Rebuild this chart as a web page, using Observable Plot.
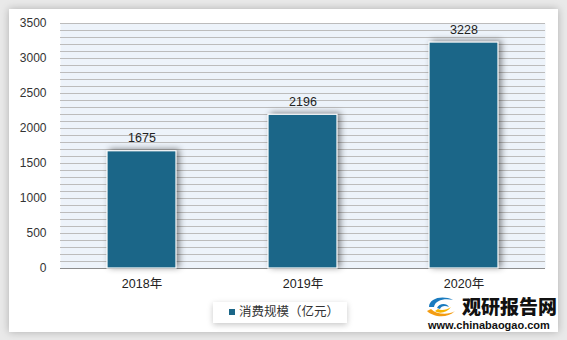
<!DOCTYPE html>
<html><head><meta charset="utf-8">
<script src="https://cdn.jsdelivr.net/npm/d3@7"></script>
<script src="https://cdn.jsdelivr.net/npm/@observablehq/plot@0.6"></script>
<style>
html,body{margin:0;padding:0;}
body{width:567px;height:340px;background:#e9e9e9;position:relative;overflow:hidden;font-family:"Liberation Sans","Noto Sans CJK SC",sans-serif;}
#card{position:absolute;left:9px;top:9px;width:549px;height:323px;background:#fff;box-shadow:0 0 8px rgba(0,0,0,0.25);}
#chart{position:absolute;left:0;top:0;}
#legend{position:absolute;left:213px;top:302px;height:21px;padding-right:8px;background:#fff;box-shadow:0 2px 6px rgba(0,0,0,0.22);font-size:12.5px;color:#333;line-height:21px;white-space:nowrap;}
#legend .sw{display:inline-block;width:6px;height:6px;background:#1b6688;margin:0 4px 0 16px;vertical-align:1px;}
#wm{position:absolute;left:425px;top:293px;width:135px;height:40px;}
#wm .t1{position:absolute;left:37px;top:2px;font-family:"Noto Sans CJK SC",sans-serif;font-weight:900;font-size:19px;letter-spacing:0px;color:#111;line-height:22px;}
#wm .t2{position:absolute;left:3px;top:26px;font-family:"Liberation Sans",sans-serif;font-weight:bold;font-size:11px;color:#111;line-height:12px;}
#wm svg{position:absolute;left:0;top:2px;}
</style></head>
<body>
<div id="card"></div>
<div id="chart"></div>
<div id="legend"><span class="sw"></span>消费规模（亿元）</div>
<div id="wm">
<svg width="34" height="24" viewBox="0 0 34 24">
<path d="M4 12 C4 3 18 0 28 5 C20 3 10 5 9 12 Z" fill="#1a7bbf"/>
<path d="M12 13 C14 8 22 8 24 12 C20 10 16 11 15 14 Z" fill="#1a7bbf"/>
<path d="M2 16 C8 22 22 24 30 16 C24 20 12 20 6 14 Z" fill="#f39c12"/>
<path d="M10 16 C14 19 22 18 26 12 C22 15 16 16 13 14 Z" fill="#f7b500"/>
</svg>
<div class="t1">观研报告网</div>
<div class="t2">www.chinabaogao.com</div>
</div>
<script>
const years = ["2018年", "2019年", "2020年"];
const values = [1675, 2196, 3228];
const yTicks = [0, 500, 1000, 1500, 2000, 2500, 3000, 3500];
const gridValues = [0,100,200,300,400,500,600,700,800,900,1000,1100,1200,1300,1400,1500,1600,1700,1800,1900,2000,2100,2200,2300,2400,2500,2600,2700,2800,2900,3000,3100,3200,3300,3400,3500];

const data = years.map((y, i) => ({year: y, value: values[i]}));

const plot = Plot.plot({
  width: 567,
  height: 340,
  marginLeft: 60,
  marginRight: 22,
  marginTop: 23,
  marginBottom: 72,
  style: {background: "transparent", fontFamily: "'Liberation Sans','Noto Sans CJK SC',sans-serif", fontSize: "12px", color: "#333"},
  x: {domain: years, paddingInner: 0.573, paddingOuter: 0.2865, label: null},
  y: {domain: [0, 3500], label: null},
  marks: [
    Plot.frame({fill: "#edf3fa", stroke: null}),
    Plot.ruleY(gridValues, {stroke: "#bcbcbc", strokeWidth: 1}),
    Plot.ruleY([0], {stroke: "#8c8c8c", strokeWidth: 1.2}),
    Plot.barY(data, {x: "year", y: "value", fill: "#1b6688", stroke: "#fff", strokeWidth: 1.2}),
    Plot.text(data, {x: "year", y: "value", text: d => String(d.value), dy: -13, fill: "#222", fontSize: 12.5}),
    Plot.axisY(yTicks, {tickSize: 0, tickPadding: 14, fontSize: 12, fill: "#333", tickFormat: d => String(d)}),
    Plot.axisX({tickSize: 0, tickPadding: 11, fontSize: 12.5, fill: "#222"})
  ]
});
plot.querySelectorAll('g[aria-label="bar"]').forEach(g => {
  g.style.filter = "drop-shadow(3px -1px 3px rgba(0,0,0,0.45))";
});
document.getElementById("chart").appendChild(plot);
</script>
</body></html>
